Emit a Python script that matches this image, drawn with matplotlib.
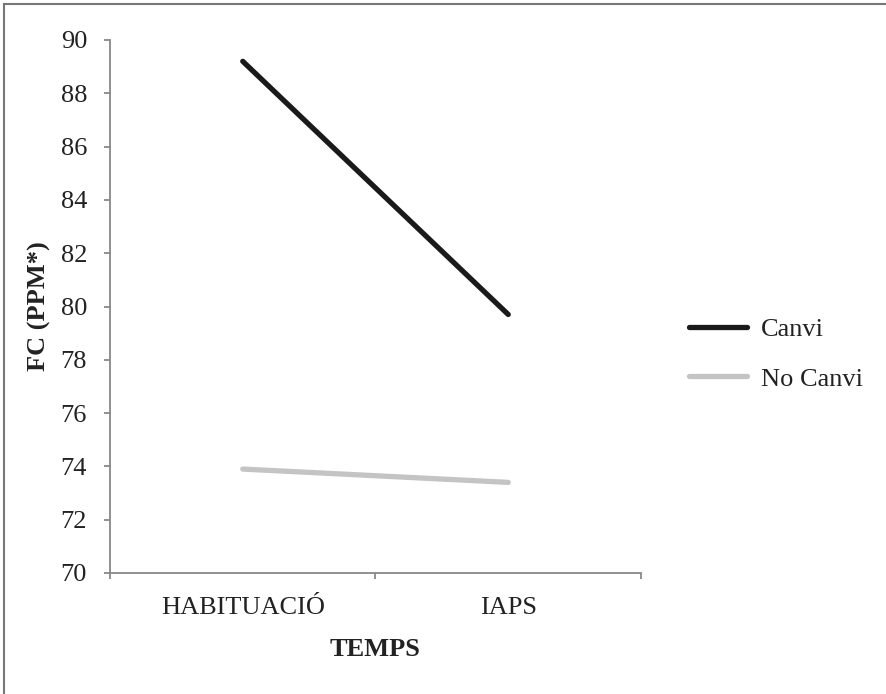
import matplotlib.pyplot as plt
from matplotlib.lines import Line2D

plt.rcParams['font.family'] = ['Liberation Serif', 'DejaVu Serif']

categories = ['HABITUACIÓ', 'IAPS']
canvi = [89.2, 79.7]
no_canvi = [73.9, 73.4]
yticks = list(range(70, 91, 2))

W, H = 887, 694
fig = plt.figure(figsize=(W / 100, H / 100), dpi=100)
ax = fig.add_axes([110 / W, 1 - 573 / H, 531 / W, 533 / H])

x = list(range(len(categories)))
ax.plot(x, canvi, color='#1a1a1a', lw=3.8, solid_capstyle='round', label='Canvi')
ax.plot(x, no_canvi, color='#c4c4c4', lw=3.8, solid_capstyle='round', label='No Canvi')

ax.set_xlim(-0.5, len(categories) - 0.5)
ax.set_ylim(70, 90)
ax.set_yticks(yticks)
ax.set_yticklabels([str(v) for v in yticks], fontsize=19, color='#222222')

# ticks on the category boundaries, labels in between
ax.set_xticks([-0.5, 0.5, 1.5])
ax.set_xticklabels([])
ax.set_xticks(x, minor=True)
ax.set_xticklabels(categories, minor=True, fontsize=19, color='#222222')
ax.tick_params(axis='x', which='minor', length=0, pad=17)
ax.tick_params(axis='x', which='major', length=4.5, width=1.3, color='#888888')
ax.tick_params(axis='y', length=4.5, width=1.3, color='#888888', pad=12)

for s in ['top', 'right']:
    ax.spines[s].set_visible(False)
for s in ['left', 'bottom']:
    ax.spines[s].set_color('#888888')
    ax.spines[s].set_linewidth(1.3)

fig.text(375 / W, 1 - 649 / H, 'TEMPS', fontsize=19, fontweight='bold', color='#222222',
         ha='center', va='center')
fig.text(39 / W, 1 - 306 / H, 'FC (PPM*)', fontsize=19, fontweight='bold', color='#222222',
         ha='center', va='center', rotation=90)

handles = [Line2D([], [], color='#1a1a1a', lw=3.8, solid_capstyle='round'),
           Line2D([], [], color='#c4c4c4', lw=3.8, solid_capstyle='round')]
fig.legend(handles, ['Canvi', 'No Canvi'], loc='center left',
           bbox_to_anchor=(665 / W, 1 - 354 / H), frameon=False,
           fontsize=19, handlelength=2.2, handletextpad=0.55, labelspacing=1.0,
           labelcolor='#222222')

# frame on top and left of the image
fig.add_artist(Line2D([4 / W, 1], [1 - 4 / H, 1 - 4 / H], transform=fig.transFigure,
                      color='#777777', lw=1.5))
fig.add_artist(Line2D([4 / W, 4 / W], [0, 1 - 4 / H], transform=fig.transFigure,
                      color='#777777', lw=1.5))

fig.savefig('out.png', dpi=100)
